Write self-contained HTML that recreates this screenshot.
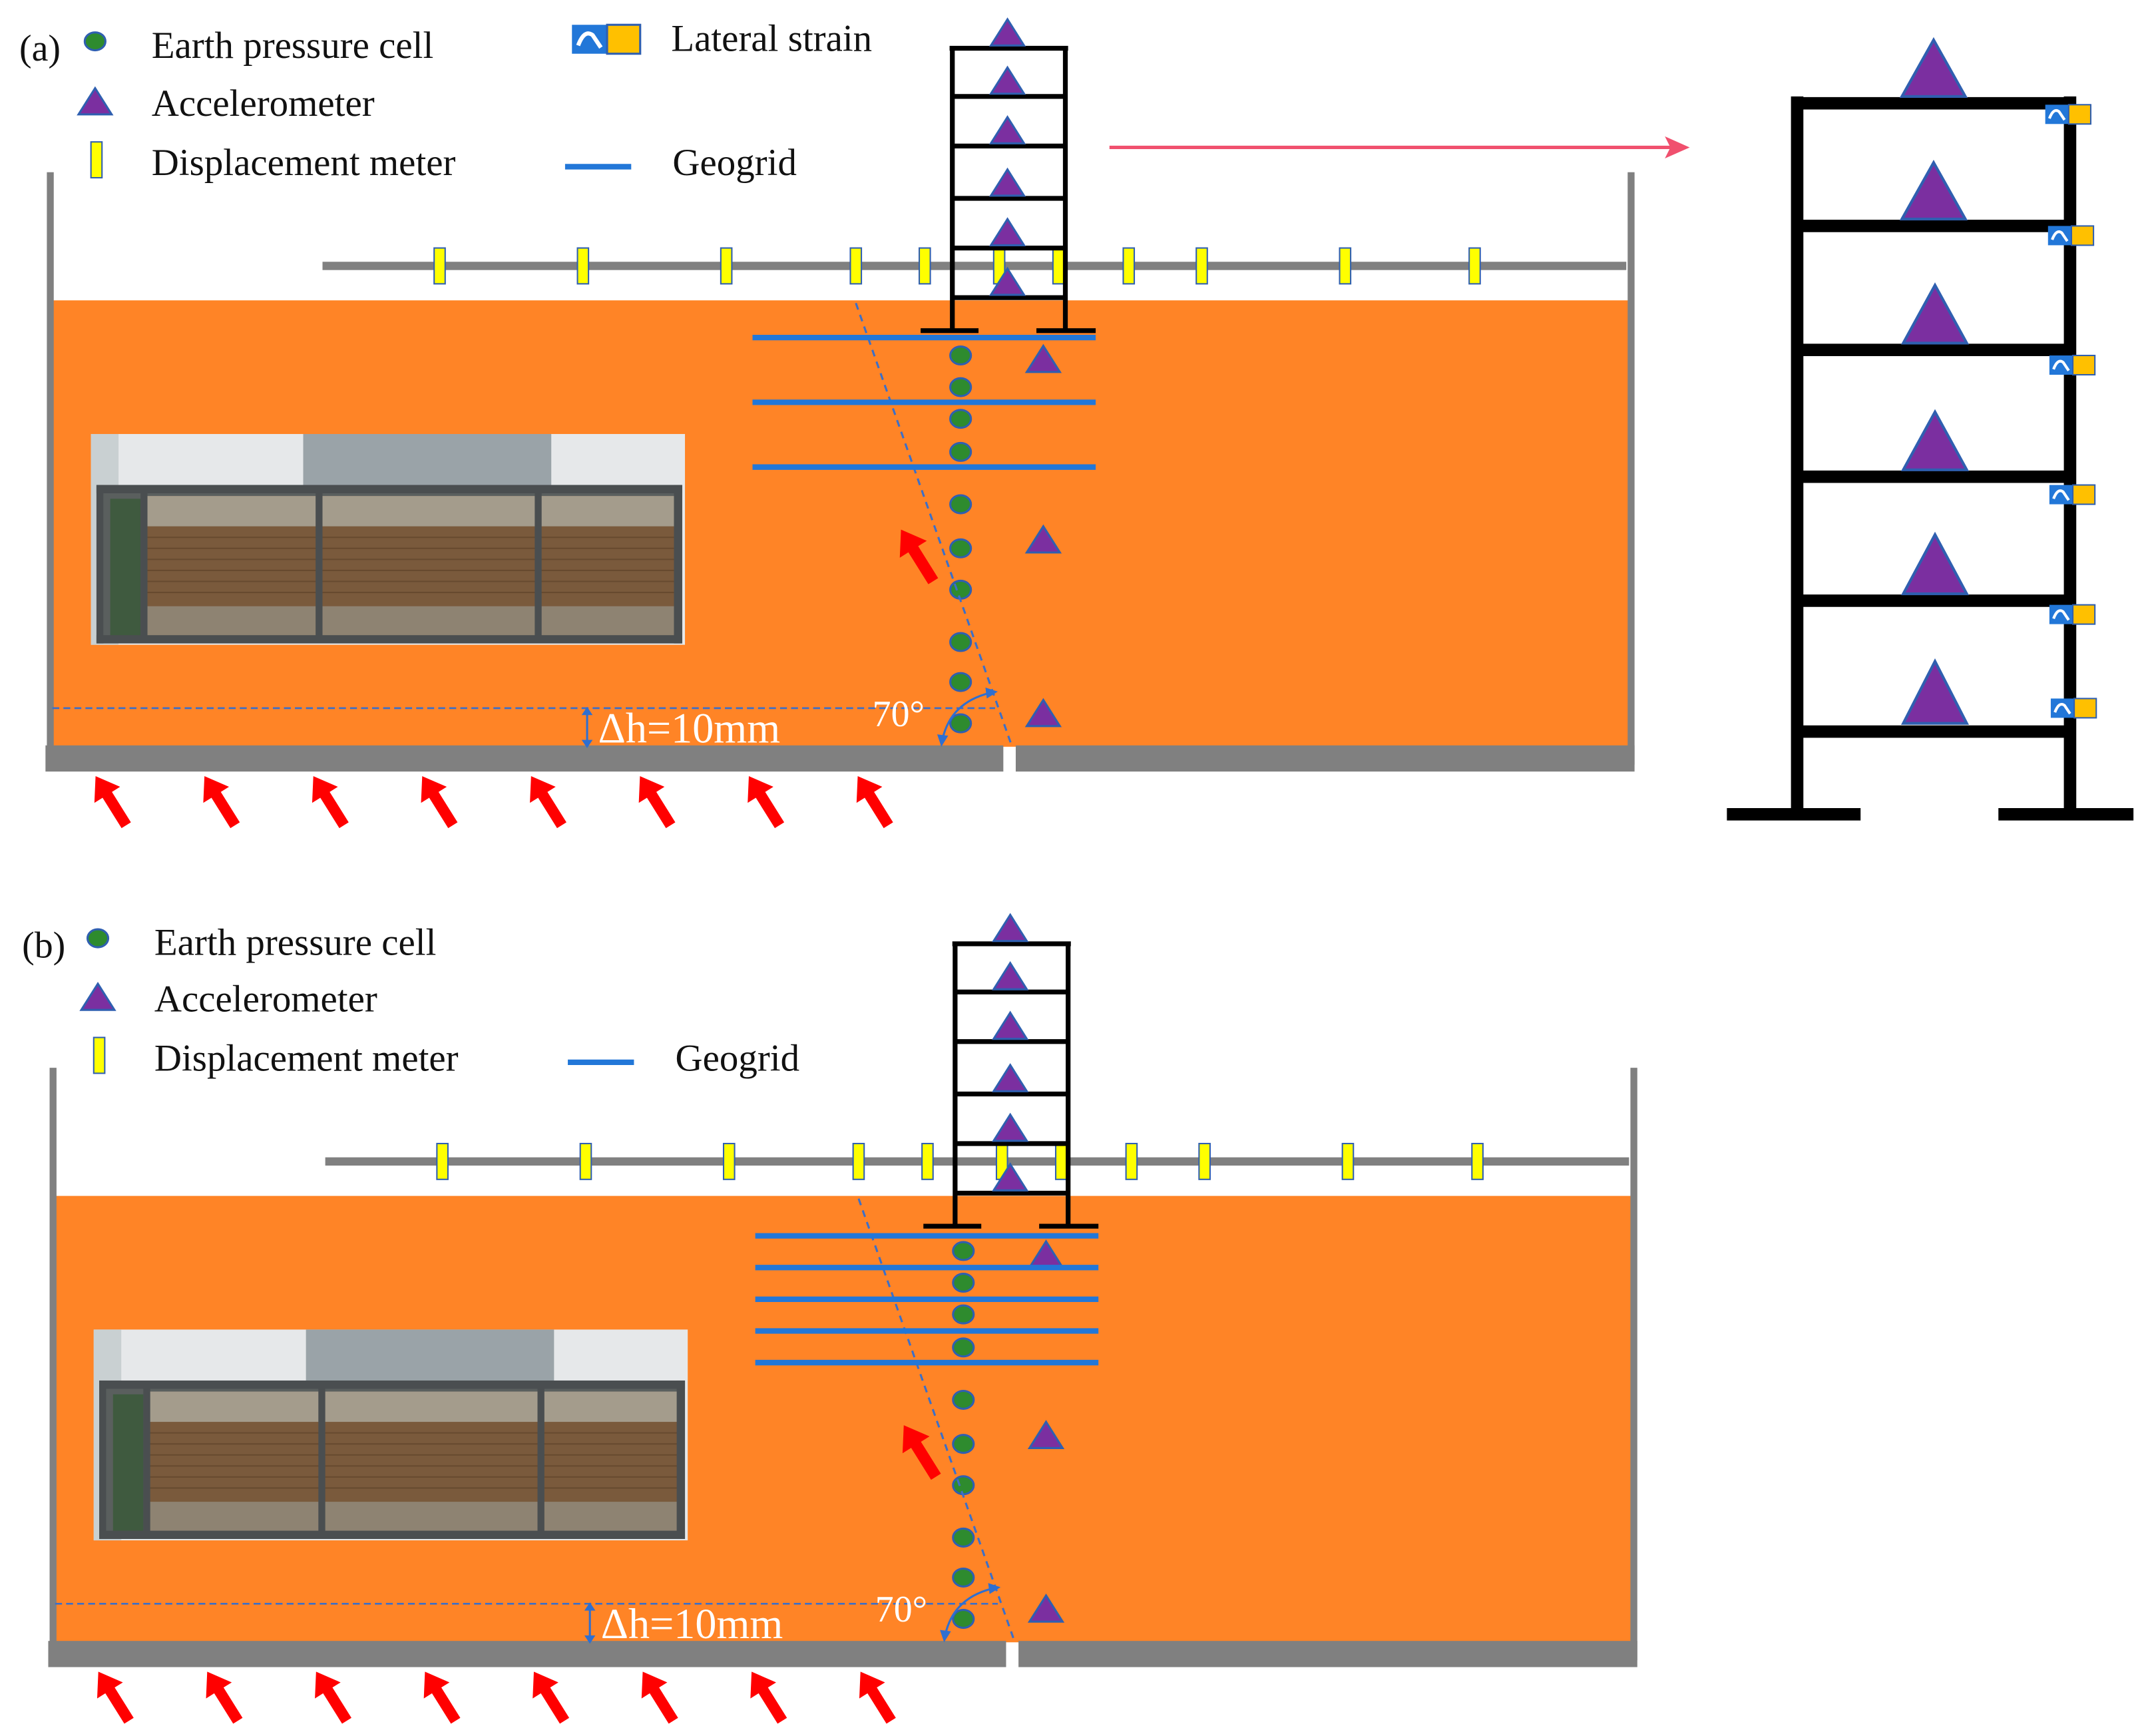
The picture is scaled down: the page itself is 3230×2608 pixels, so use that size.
<!DOCTYPE html>
<html><head><meta charset="utf-8"><style>
html,body{margin:0;padding:0;background:#fff;}
svg{display:block;}
text{font-family:"Liberation Serif",serif;}
</style></head><body>
<svg width="3230" height="2608" viewBox="0 0 1560 1260" preserveAspectRatio="none" xmlns="http://www.w3.org/2000/svg">
<defs>
<path id="tri" d="M0,-11 L12,8 L-12,8 Z" fill="#7B2FA0" stroke="#2F5FB0" stroke-width="1.5"/>
<ellipse id="dot" rx="7.5" ry="6.5" fill="#2E8B2E" stroke="#2F5FB0" stroke-width="1.5"/>
<rect id="ym" x="-4" y="-13" width="8" height="26" fill="#FFFF00" stroke="#2F5FB0" stroke-width="1"/>
<path id="rarr" d="M0,-22 L11,-6 L4,-6 L4,20 L-4,20 L-4,-6 L-11,-6 Z" fill="#FF0000"/>
<g id="strain"><rect x="0" y="0" width="17" height="14" fill="#2277D8"/><path d="M3,10 Q6,2 10,5 L14,11" stroke="#fff" stroke-width="2" fill="none"/><rect x="17" y="0" width="16" height="14" fill="#FFC000" stroke="#2F5FB0" stroke-width="1"/></g>
<g id="tank">
  <rect x="38" y="218" width="1144" height="324" fill="#FF8426"/>
  <rect x="34" y="125" width="5" height="420" fill="#808080"/>
  <rect x="1181" y="125" width="5" height="430" fill="#808080"/>
  <rect x="33" y="541" width="695" height="19" fill="#808080"/>
  <rect x="737" y="541" width="449" height="19" fill="#808080"/>
  <rect x="234" y="190" width="946" height="6" fill="#808080"/>
  <rect x="66" y="315" width="431" height="153" fill="#E6E8EA"/>
  <rect x="220" y="315" width="180" height="40" fill="#9AA3A8"/>
  <rect x="66" y="315" width="20" height="153" fill="#C9D0D2"/>
  <rect x="70" y="352" width="425" height="114" fill="#5A5F5E"/>
  <rect x="106" y="360" width="386" height="102" fill="#7A5A3C"/>
  <rect x="106" y="360" width="386" height="22" fill="#A49C8C"/>
  <rect x="106" y="440" width="386" height="22" fill="#8E8372"/>
  <g stroke="#5C4128" stroke-width="1" opacity="0.6">
    <line x1="106" y1="390" x2="492" y2="390"/><line x1="106" y1="398" x2="492" y2="398"/><line x1="106" y1="406" x2="492" y2="406"/><line x1="106" y1="414" x2="492" y2="414"/><line x1="106" y1="422" x2="492" y2="422"/><line x1="106" y1="430" x2="492" y2="430"/>
  </g>
  <rect x="80" y="362" width="22" height="100" fill="#3F5A3F"/>
  <g fill="#4A4E50"><rect x="102" y="355" width="5" height="110"/><rect x="229" y="355" width="5" height="110"/><rect x="388" y="355" width="5" height="110"/><rect x="70" y="352" width="425" height="6"/><rect x="70" y="461" width="425" height="6"/><rect x="70" y="352" width="5" height="115"/><rect x="489" y="352" width="6" height="115"/></g>
  <g><use href="#ym" x="319" y="193"/><use href="#ym" x="423" y="193"/><use href="#ym" x="527" y="193"/><use href="#ym" x="621" y="193"/><use href="#ym" x="671" y="193"/><use href="#ym" x="725" y="193"/><use href="#ym" x="768" y="193"/><use href="#ym" x="819" y="193"/><use href="#ym" x="872" y="193"/><use href="#ym" x="976" y="193"/><use href="#ym" x="1070" y="193"/></g>
  <g stroke="#000" stroke-width="3.5" fill="none">
    <line x1="691" y1="34" x2="691" y2="241"/><line x1="773" y1="34" x2="773" y2="241"/>
    <line x1="689" y1="35" x2="775" y2="35"/><line x1="691" y1="70" x2="773" y2="70"/><line x1="691" y1="106" x2="773" y2="106"/><line x1="691" y1="144" x2="773" y2="144"/><line x1="691" y1="180" x2="773" y2="180"/><line x1="691" y1="216" x2="773" y2="216"/>
    <line x1="668" y1="240" x2="710" y2="240"/><line x1="752" y1="240" x2="795" y2="240"/>
  </g>
  <g><use href="#tri" x="731" y="25"/><use href="#tri" x="731" y="60"/><use href="#tri" x="731" y="96"/><use href="#tri" x="731" y="134"/><use href="#tri" x="731" y="170"/><use href="#tri" x="731" y="206"/></g>
  <g><use href="#dot" x="697" y="258"/><use href="#dot" x="697" y="281"/><use href="#dot" x="697" y="304"/><use href="#dot" x="697" y="328"/><use href="#dot" x="697" y="366"/><use href="#dot" x="697" y="398"/><use href="#dot" x="697" y="428"/><use href="#dot" x="697" y="466"/><use href="#dot" x="697" y="495"/><use href="#dot" x="697" y="525"/></g>
  <g><use href="#tri" x="757" y="262"/><use href="#tri" x="757" y="393"/><use href="#tri" x="757" y="519"/></g>
  <line x1="621" y1="220" x2="734" y2="541" stroke="#3C6FC8" stroke-width="1.5" stroke-dasharray="5,4"/>
  <line x1="38" y1="514" x2="722" y2="514" stroke="#3C6FC8" stroke-width="1.3" stroke-dasharray="5,3"/>
  <line x1="426" y1="518" x2="426" y2="538" stroke="#2F6FD0" stroke-width="1.5"/>
  <path d="M422,519 L426,513 L430,519 Z M422,537 L426,543 L430,537 Z" fill="#2F6FD0"/>
  <path d="M684,536 Q690,510 718,503" stroke="#2F6FD0" stroke-width="1.5" fill="none"/>
  <path d="M715,499 L724,502 L716,507 Z M680,533 L683,542 L688,534 Z" fill="#2F6FD0"/>
  <use href="#rarr" transform="translate(666,404) rotate(-32) scale(1.05)"/>
  <g><use href="#rarr" transform="translate(81,582) rotate(-32)"/><use href="#rarr" transform="translate(160,582) rotate(-32)"/><use href="#rarr" transform="translate(239,582) rotate(-32)"/><use href="#rarr" transform="translate(318,582) rotate(-32)"/><use href="#rarr" transform="translate(397,582) rotate(-32)"/><use href="#rarr" transform="translate(476,582) rotate(-32)"/><use href="#rarr" transform="translate(555,582) rotate(-32)"/><use href="#rarr" transform="translate(634,582) rotate(-32)"/></g>
</g>
</defs>

<use href="#tank"/>
<g stroke="#2277D8" stroke-width="4"><line x1="546" y1="245" x2="795" y2="245"/><line x1="546" y1="292" x2="795" y2="292"/><line x1="546" y1="339" x2="795" y2="339"/></g>
<text x="434" y="539" font-size="31" fill="#fff">Δh=10mm</text>
<text x="633" y="527" font-size="27" fill="#fff">70°</text>
<text x="14" y="44" font-size="27" fill="#111">(a)</text>
<use href="#dot" x="69" y="30"/>
<text x="110" y="42" font-size="27.5" fill="#111">Earth pressure cell</text>
<use href="#tri" x="69" y="75"/>
<text x="110" y="84" font-size="27.5" fill="#111">Accelerometer</text>
<use href="#ym" x="70" y="116"/>
<text x="110" y="127" font-size="27.5" fill="#111">Displacement meter</text>
<use href="#strain" transform="translate(415,18) scale(1.5)"/>
<text x="487" y="37" font-size="27.5" fill="#111">Lateral strain</text>
<line x1="410" y1="121" x2="458" y2="121" stroke="#2277D8" stroke-width="4"/>
<text x="488" y="127" font-size="27.5" fill="#111">Geogrid</text>
<line x1="805" y1="107" x2="1214" y2="107" stroke="#F0506E" stroke-width="2.5"/>
<path d="M1226,107 L1208,99 L1212,107 L1208,115 Z" fill="#F0506E"/>
<g stroke="#000" stroke-width="9" fill="none">
  <line x1="1304" y1="70" x2="1304" y2="588"/><line x1="1502" y1="70" x2="1502" y2="588"/>
  <line x1="1300" y1="75" x2="1505" y2="75"/><line x1="1304" y1="164" x2="1502" y2="164"/><line x1="1304" y1="254" x2="1502" y2="254"/><line x1="1304" y1="346" x2="1502" y2="346"/><line x1="1304" y1="436" x2="1502" y2="436"/><line x1="1304" y1="531" x2="1502" y2="531"/>
  <line x1="1253" y1="591" x2="1350" y2="591"/><line x1="1450" y1="591" x2="1548" y2="591"/>
</g>
<g fill="#7B2FA0" stroke="#2F5FB0" stroke-width="2">
  <path d="M1403,29 L1426,70 L1380,70 Z"/><path d="M1403,118 L1426,159 L1380,159 Z"/><path d="M1404,207 L1427,249 L1381,249 Z"/><path d="M1404,299 L1427,341 L1381,341 Z"/><path d="M1404,388 L1427,431 L1381,431 Z"/><path d="M1404,480 L1427,525 L1381,525 Z"/>
</g>
<g><use href="#strain" x="1484" y="76"/><use href="#strain" x="1486" y="164"/><use href="#strain" x="1487" y="258"/><use href="#strain" x="1487" y="352"/><use href="#strain" x="1487" y="439"/><use href="#strain" x="1488" y="507"/></g>

<g transform="translate(2,650)"><use href="#tank"/></g>
<g stroke="#2277D8" stroke-width="4"><line x1="548" y1="897" x2="797" y2="897"/><line x1="548" y1="920" x2="797" y2="920"/><line x1="548" y1="943" x2="797" y2="943"/><line x1="548" y1="966" x2="797" y2="966"/><line x1="548" y1="989" x2="797" y2="989"/></g>
<text x="436" y="1189" font-size="31" fill="#fff">Δh=10mm</text>
<text x="635" y="1177" font-size="27" fill="#fff">70°</text>
<text x="16" y="695" font-size="27" fill="#111">(b)</text>
<use href="#dot" x="71" y="681"/>
<text x="112" y="693" font-size="27.5" fill="#111">Earth pressure cell</text>
<use href="#tri" x="71" y="725"/>
<text x="112" y="734" font-size="27.5" fill="#111">Accelerometer</text>
<use href="#ym" x="72" y="766"/>
<text x="112" y="777" font-size="27.5" fill="#111">Displacement meter</text>
<line x1="412" y1="771" x2="460" y2="771" stroke="#2277D8" stroke-width="4"/>
<text x="490" y="777" font-size="27.5" fill="#111">Geogrid</text>
</svg>
</body></html>
